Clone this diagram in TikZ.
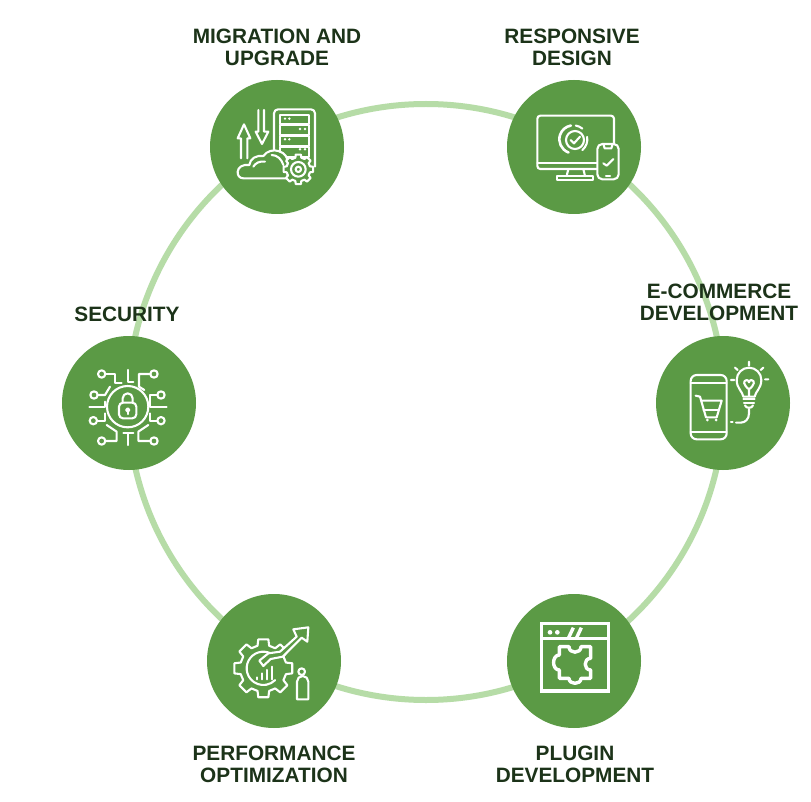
\documentclass[tikz,border=0pt]{standalone}
\usepackage{fontspec}
\setmainfont{Liberation Sans}
\definecolor{leaf}{HTML}{5B9A45}
\definecolor{ringc}{HTML}{B6DCA7}
\definecolor{inkc}{HTML}{1C3319}
\newcommand{\mygear}[7]{% cx cy Router Rinner teeth offset linewidth
  \begin{scope}[shift={(#1,#2)}]
  \pgfmathsetmacro{\stepang}{360/#5}
  \pgfmathsetmacro{\firstang}{#6}
  \draw[line width=#7,fill=leaf,line join=round]
    (\firstang-0.32*\stepang:#4)
    \foreach \k in {1,...,#5}{
      -- ({\firstang+(\k-1)*\stepang-0.22*\stepang}:#3)
      -- ({\firstang+(\k-1)*\stepang+0.22*\stepang}:#3)
      -- ({\firstang+(\k-1)*\stepang+0.32*\stepang}:#4)
      -- ({\firstang+\k*\stepang-0.32*\stepang}:#4)
    } -- cycle;
  \end{scope}}
\tikzset{
  ringline/.style={draw=ringc,line width=6pt},
  disc/.style={circle,fill=leaf,minimum size=134pt,inner sep=0pt},
  lab/.style={font=\fontsize{20.8}{22}\selectfont\bfseries,text=inkc,align=center,inner sep=0pt},
  zoomed/.style={x=0.33333pt,y=-0.33333pt,draw=white,line width=2.1pt,line cap=round,line join=round},
  thick icon/.style={line width=3.4pt}
}
\begin{document}
\begin{tikzpicture}[x=1pt,y=-1pt]
\useasboundingbox[fill=white] (0,0) rectangle (811,802);
\node[circle,ringline,minimum size=596pt,inner sep=0pt] (ring) at (426,402) {};
\node[disc] (mig) at (277,147) {};
\node[disc] (res) at (574,147) {};
\node[disc] (eco) at (723,403) {};
\node[disc] (plu) at (574,661) {};
\node[disc] (per) at (274,661) {};
\node[disc] (sec) at (129,403) {};
\node[lab] (tmig) at (277,47) {MIGRATION AND\\UPGRADE};
\node[lab] (tres) at (572,47) {RESPONSIVE\\DESIGN};
\node[lab] (teco) at (719,302) {E-COMMERCE\\DEVELOPMENT};
\node[lab] (tsec) at (127,314) {SECURITY};
\node[lab] (tplu) at (575,764) {PLUGIN\\DEVELOPMENT};
\node[lab] (tper) at (274,764) {PERFORMANCE\\OPTIMIZATION};

% migration icon
\begin{scope}[shift={(200,70)},zoomed]
\draw[rounded corners=4pt] (240,252) -- (222,252) -- (222,118) -- (345,118) -- (345,290);
\foreach \a/\b in {135/163,166/195,198/228,231/260}
  \draw (240,\a) rectangle (328,\b);
\foreach \a/\b in {255/146,268/146,300/177,315/177,255/208,268/208,300/238,315/238}
  \fill[white] (\a,\b) circle (4);
\draw (175,120) -- (175,185) -- (167,185) -- (186,222) -- (205,185) -- (192,185) -- (192,120);
\draw (123,265) -- (123,205) -- (113,205) -- (132,163) -- (151,205) -- (142,205) -- (142,265);
\draw[fill=leaf] (130,325) .. controls (118,325) and (112,315) .. (113,305)
  .. controls (114,292) and (128,282) .. (148,285)
  .. controls (150,265) and (170,255) .. (190,258)
  .. controls (200,243) and (220,238) .. (235,243)
  .. controls (255,248) and (265,265) .. (263,280) -- (263,325) -- cycle;
\draw (160,290) .. controls (165,280) and (180,272) .. (195,275);
\draw (215,255) .. controls (232,255) and (245,268) .. (250,285);
\mygear{295}{298}{45}{36}{8}{0}{2.1pt}
\draw (295,298) circle (22);
\draw (295,298) circle (8);
\end{scope}

% responsive icon
\begin{scope}[shift={(500,70)},zoomed]
\draw[rounded corners=3pt] (290,297) -- (112,297) -- (112,137) -- (342,137) -- (342,222);
\draw (112,278) -- (290,278);
\draw (205,297) -- (200,318) (250,297) -- (255,318);
\draw (170,318) rectangle (280,331);
\draw[fill=leaf,rounded corners=5pt] (292,222) rectangle (356,328);
\draw (310,222) -- (314,235) -- (334,235) -- (338,222);
\draw (310,280) -- (320,287) -- (340,267);
\draw (318,317) -- (330,317);
\draw (225,210) circle (27);
\draw (212,210) -- (222,220) -- (240,200);
\draw[line width=2.6pt] (220,208) ++(110:42) arc[start angle=110,end angle=260,radius=42];
\draw (220,208) ++(-80:42) arc[start angle=-80,end angle=-50,radius=42];
\draw (220,208) ++(-10:42) arc[start angle=-10,end angle=50,radius=42];
\end{scope}

% e-commerce icon
\begin{scope}[shift={(650,330)},zoomed]
\draw[rounded corners=6pt] (122,135) rectangle (230,328);
\draw (122,160) -- (230,160) (122,305) -- (230,305);
\draw (137,197) -- (150,200) -- (168,262) -- (200,262) -- (215,212) -- (155,212);
\draw (160,240) -- (206,240);
\fill[white] (172,270) circle (4.5) (198,270) circle (4.5);
\draw (280,200) .. controls (278,185) and (260,175) .. (260,150)
  arc[start angle=180,end angle=360,radius=37]
  .. controls (334,175) and (316,185) .. (314,200) -- cycle;
\draw (280,208) -- (314,208) (282,218) -- (312,218);
\draw (285,226) .. controls (288,236) and (306,236) .. (309,226);
\draw (297,178) .. controls (280,165) and (278,152) .. (290,150) .. controls (294,150) and (296,153) .. (297,157)
  .. controls (298,153) and (300,150) .. (304,150) .. controls (316,152) and (314,165) .. (297,178) -- (297,198);
\draw (297,238) -- (297,250) .. controls (297,268) and (285,278) .. (272,278) -- (258,278);
\draw (243,277) -- (248,277);
\draw (297,95) -- (297,107) (255,113) -- (263,120) (340,113) -- (332,120) (243,150) -- (253,150) (345,148) -- (355,148);
\end{scope}

% plugin icon
\begin{scope}[shift={(500,590)},zoomed,line cap=butt,line join=miter]
\draw[thick icon] (125,100) rectangle (325,303);
\draw[thick icon] (125,145) -- (325,145);
\fill[white] (150,127) circle (7) (172,127) circle (7);
\draw[thick icon] (205,145) -- (220,113) (229,145) -- (244,113);
\draw[thick icon,line join=round] (178,170) -- (207,170)
  .. controls (207,192) and (243,192) .. (243,170) -- (272,170) -- (272,205)
  .. controls (250,205) and (250,240) .. (272,240) -- (272,265) -- (243,265)
  .. controls (243,285) and (207,285) .. (207,265) -- (178,265) -- (178,240)
  .. controls (155,240) and (155,195) .. (178,195) -- cycle;
\end{scope}

% performance icon
\begin{scope}[shift={(200,590)},zoomed]
\mygear{190}{235}{88}{70}{8}{0}{2.1pt}
\draw (190,235) ++(-40:50) arc[start angle=-40,end angle=-315,radius=50];
\draw[fill=leaf] (178,212) -- (205,190) -- (240,185) -- (290,140) -- (280,118) -- (325,112) -- (322,155) -- (305,143) -- (248,200) -- (212,207) -- (190,228) -- cycle;
\draw (170,268) -- (170,262) (185,268) -- (185,250) (200,268) -- (200,240) (215,268) -- (215,230);
\draw (305,245) circle (10);
\draw[fill=leaf] (291,328) -- (291,275) arc[start angle=180,end angle=360,radius=17] -- (325,328) -- cycle;
\end{scope}

% security icon
\begin{scope}[shift={(55,330)},zoomed]
\draw[rounded corners=4pt] (192,218) rectangle (244,265);
\draw (203,218) -- (203,205) arc[start angle=180,end angle=360,radius=15] -- (233,218);
\draw (218,240) circle (5);
\draw (218,245) -- (218,252);
\draw (218,230) circle (62);
\foreach \a/\b in {140/132,297/132,117/195,318/195,115/272,318/272,140/333,297/333}
  \draw (\a,\b) circle (11);
\draw (152,132) -- (180,132) -- (180,158) -- (200,158);
\draw (285,132) -- (252,132) -- (252,170) -- (268,180);
\draw (218,120) -- (218,155) -- (235,155);
\draw (130,195) -- (150,195) -- (165,170);
\draw (305,195) -- (285,195) -- (285,232) -- (335,232);
\draw (103,232) -- (150,232) -- (150,215);
\draw (128,272) -- (150,272) -- (150,250);
\draw (305,272) -- (285,272) -- (285,250);
\draw (155,285) -- (185,305) -- (185,333) -- (152,333);
\draw (285,333) -- (250,333) -- (250,305) -- (280,285);
\draw (218,345) -- (218,310) (205,310) -- (235,310);
\end{scope}
\end{tikzpicture}
\end{document}
